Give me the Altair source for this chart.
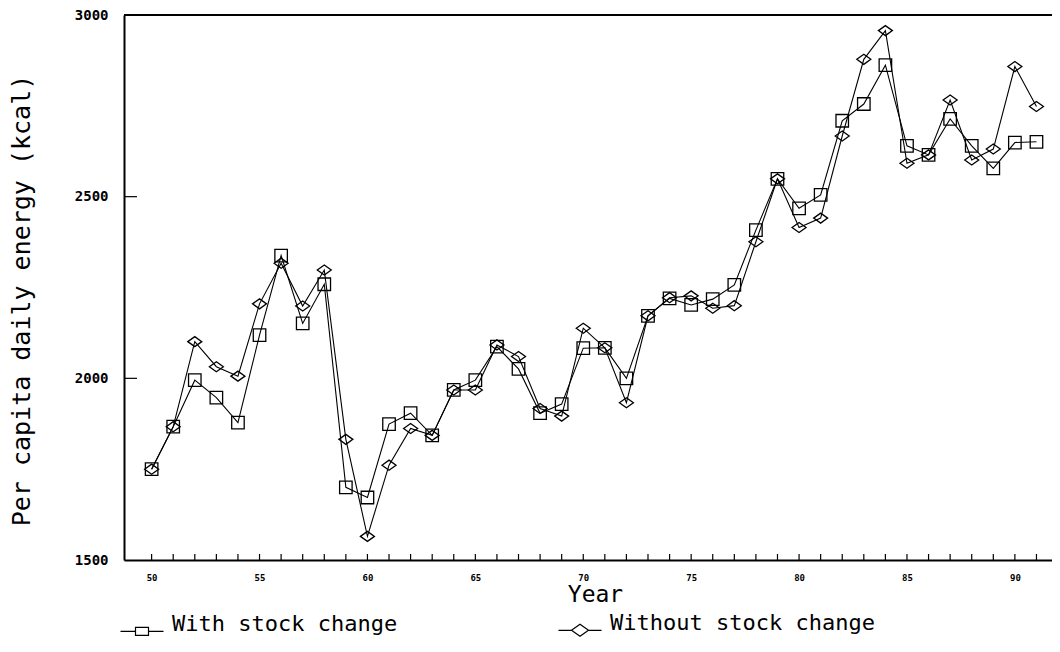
import altair as alt
import pandas as pd

# ---------------- data ----------------
years = list(range(50, 92))
series = ["With stock change", "Without stock change"]
with_stock = [1750, 1867, 1995, 1947, 1878, 2119, 2338, 2151, 2259, 1700,
              1672, 1874, 1904, 1843, 1968, 1995, 2087, 2026, 1904, 1929,
              2083, 2084, 2000, 2172, 2220, 2202, 2218, 2257, 2408, 2549,
              2468, 2505, 2709, 2755, 2862, 2640, 2615, 2714, 2640, 2578,
              2649, 2651]
without_stock = [1750, 1867, 2101, 2032, 2006, 2205, 2317, 2199, 2298, 1832,
                 1565, 1761, 1862, 1843, 1968, 1968, 2092, 2060, 1917, 1896,
                 2138, 2084, 1933, 2172, 2222, 2227, 2193, 2200, 2376, 2549,
                 2415, 2441, 2667, 2878, 2957, 2592, 2615, 2766, 2601, 2631,
                 2858, 2748]
x_tick_years = list(range(50, 92))
x_label_years = [50, 55, 60, 65, 70, 75, 80, 85, 90]
y_label_values = [1500, 2000, 2500, 3000]
y_tick_values = [2000, 2500]

rows = []
for i, yr in enumerate(years):
    rows.append({"year": yr, "kcal": with_stock[i], "series": series[0]})
    rows.append({"year": yr, "kcal": without_stock[i], "series": series[1]})
df = pd.DataFrame(rows)
xt_df = pd.DataFrame({"year": x_tick_years})
yt_df = pd.DataFrame({"kcal": y_tick_values})

# ---------------- styling ----------------
W, H = 928, 545
FONT = "DejaVu Sans Mono"

xscale = alt.Scale(domain=[48.72, 91.72], nice=False, zero=False)
yscale = alt.Scale(domain=[1500, 3000], nice=False, zero=False)

x_axis = alt.Axis(values=x_label_years, title="Year", grid=False, tickSize=0,
                  domain=True, domainColor="black", domainWidth=2,
                  labelFont=FONT, labelFontSize=9, labelFontWeight="bold",
                  labelColor="black", labelPadding=13,
                  titleFont=FONT, titleFontSize=23, titleFontWeight="normal",
                  titleColor="black", titlePadding=1, titleX=471)
y_axis = alt.Axis(values=y_label_values, format="d",
                  title="Per capita daily energy (kcal)",
                  grid=False, tickSize=0, domain=True, domainColor="black",
                  domainWidth=2, labelFont=FONT, labelFontSize=14,
                  labelFontWeight="bold", labelColor="black", labelPadding=16,
                  titleFont=FONT, titleFontSize=25, titleFontWeight="normal",
                  titleColor="black", titlePadding=40, titleY=285)

X = alt.X("year:Q", scale=xscale, axis=x_axis)
Y = alt.Y("kcal:Q", scale=yscale, axis=y_axis)

sq_path = "M-1.25,-1.25H1.25V1.25H-1.25Z"
dia_path = "M-1.4,0L0,-1L1.4,0L0,1Z"
leg_sq = "M-4.3,0H-1.3M1.3,0H4.3M-1.3,-0.8H1.3V0.8H-1.3Z"
leg_dia = "M-4.3,0H-1.7M1.7,0H4.3M-1.7,0L0,-1.2L1.7,0L0,1.2Z"

lines = alt.Chart(df).mark_line(color="black", strokeWidth=1.1).encode(
    x=X, y=Y, detail="series:N")

points = alt.Chart(df).mark_point(filled=False, color="black", strokeWidth=1.3,
                                  size=100, opacity=1).encode(
    x=X, y=Y,
    shape=alt.Shape("series:N", scale=alt.Scale(domain=series, range=[sq_path, dia_path]),
                    legend=None))

legend_layer = alt.Chart(df).mark_point(filled=False, color="black", size=0).encode(
    x=X, y=Y,
    shape=alt.Shape("series:N",
                    scale=alt.Scale(domain=series, range=[leg_sq, leg_dia]),
                    legend=alt.Legend(title=None, orient="none", legendX=7, legendY=604,
                                      direction="horizontal", symbolSize=100,
                                      symbolStrokeWidth=1.2, symbolStrokeColor="black",
                                      symbolOpacity=1, labelFont=FONT, labelFontSize=22,
                                      labelColor="black", labelOffset=19,
                                      labelBaseline="alphabetic",
                                      columnPadding=158, labelLimit=400)))

xticks = alt.Chart(xt_df).mark_rule(color="black", strokeWidth=1.2).encode(
    x=X, y=alt.value(H), y2=alt.value(H - 6))

yticks = alt.Chart(yt_df).mark_rule(color="black", strokeWidth=1.2).encode(
    y=Y, x=alt.value(0), x2=alt.value(13))

top_line = alt.Chart(xt_df).mark_rule(color="black", strokeWidth=2).encode(
    y=alt.value(0), x=alt.value(0), x2=alt.value(W))

chart = alt.layer(top_line, xticks, yticks, lines, points, legend_layer).resolve_scale(
    shape="independent"
).properties(
    width=W, height=H,
    autosize=alt.AutoSizeParams(type="none"),
    padding={"left": 116, "top": 7, "right": 0, "bottom": 78},
    background="white",
).configure_view(stroke=None)

chart.save("out.html", embed_options={"renderer": "svg", "actions": False})
